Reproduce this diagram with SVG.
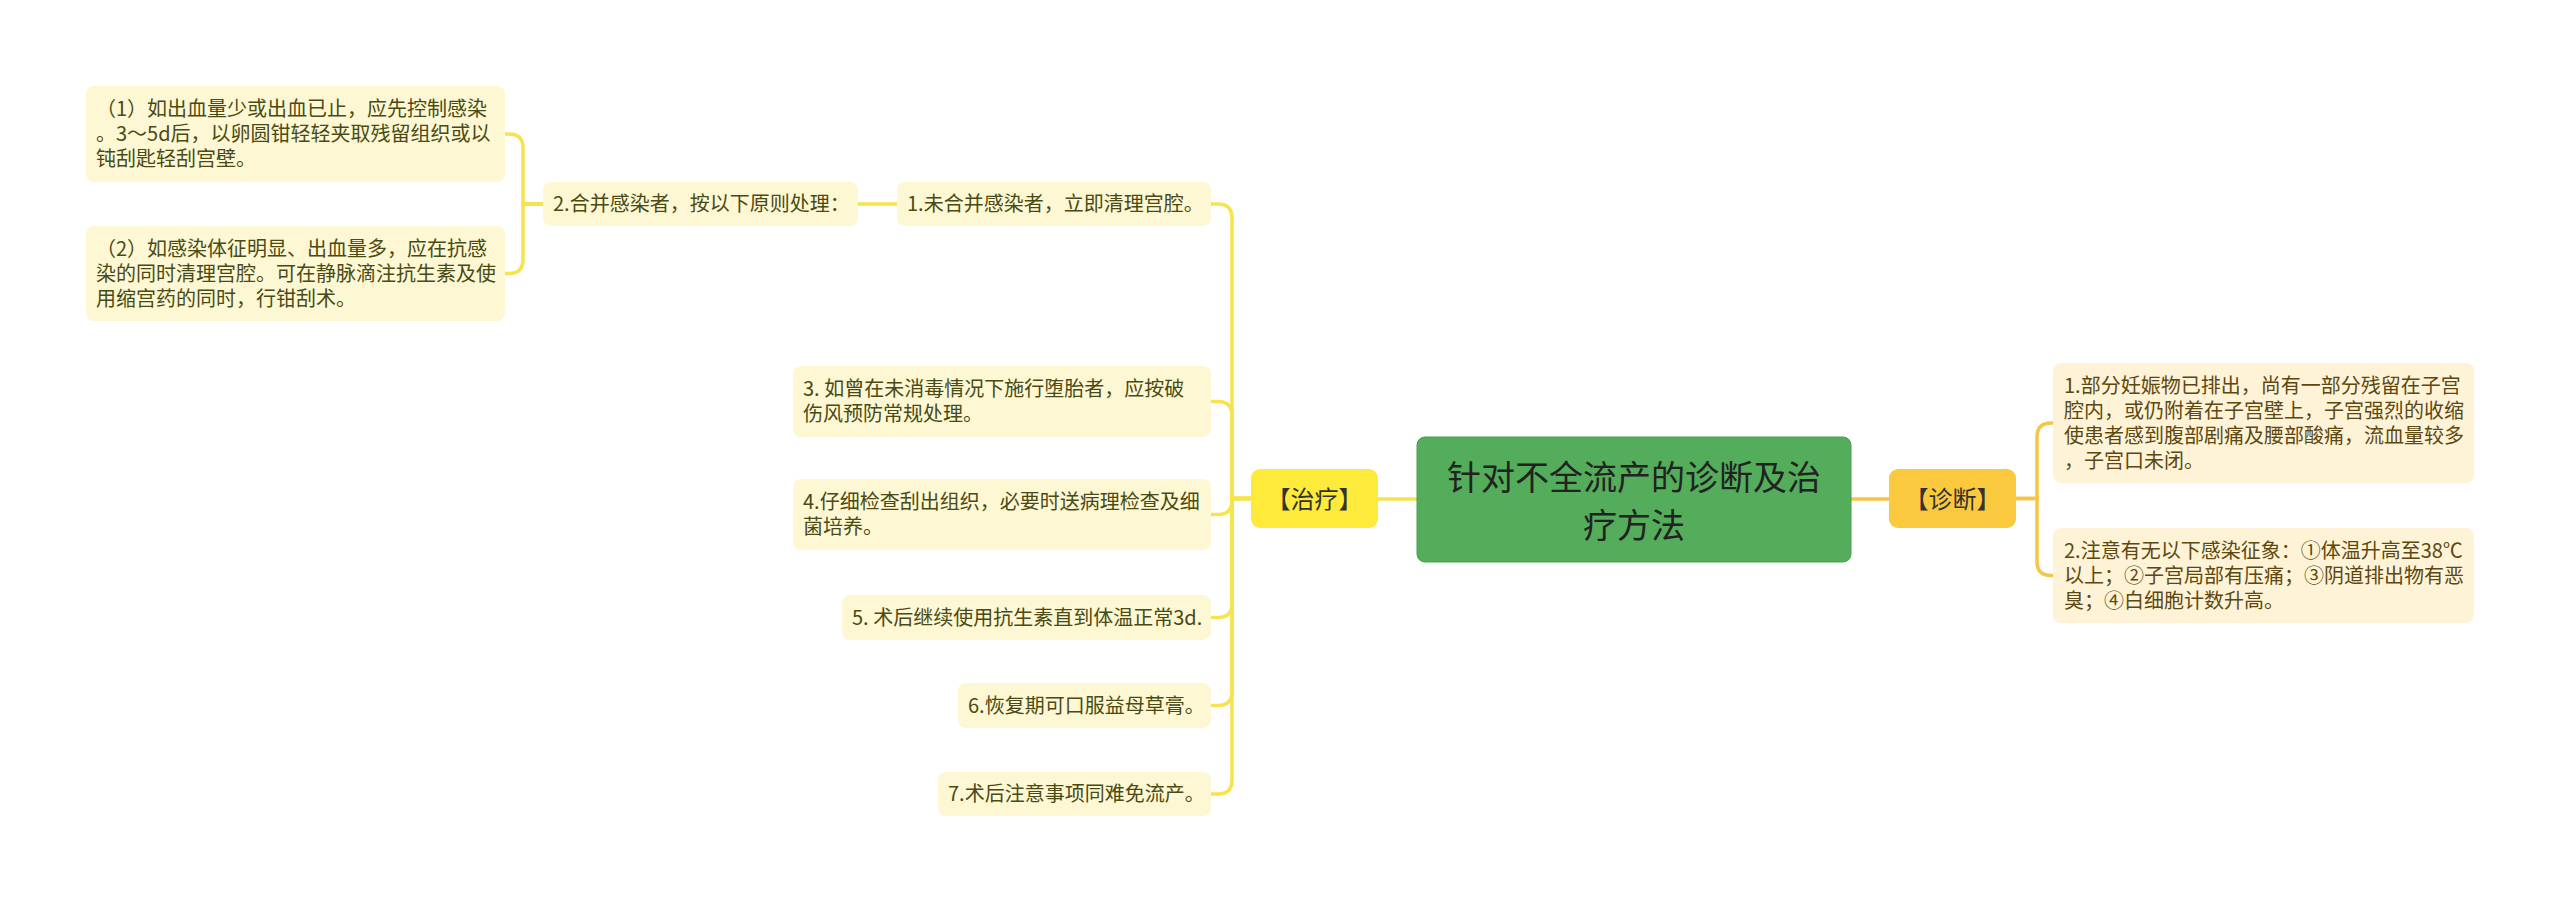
<svg xmlns="http://www.w3.org/2000/svg" width="2560" height="903" viewBox="0 0 2560 903">
<style>
.t{font-family:"Noto Sans CJK SC","Noto Sans",sans-serif;font-size:20px}
.tt{fill:#4a4a14}
.td{fill:#5c4810}
.by{fill:#fdf8d3}
.bd{fill:#fef3d6}
.cy{fill:none;stroke:#f7e34b;stroke-width:3.5;stroke-linecap:round}
.co{fill:none;stroke:#f6c546;stroke-width:3.5;stroke-linecap:round}
</style>
<rect width="2560" height="903" fill="#ffffff"/>
<g id="connectors">
<path class="cy" d="M1417,499 H1378"/>
<path class="co" d="M1851,499 H1889"/>
<path class="cy" d="M1251,498.5 H1232 V218 Q1232,204 1218,204 H1211"/>
<path class="cy" d="M1251,498.5 H1232 V415.5 Q1232,401.5 1218,401.5 H1211"/>
<path class="cy" d="M1251,498.5 H1232 V500.5 Q1232,514.5 1218,514.5 H1211"/>
<path class="cy" d="M1251,498.5 H1232 V603.5 Q1232,617.5 1218,617.5 H1211"/>
<path class="cy" d="M1251,498.5 H1232 V691.5 Q1232,705.5 1218,705.5 H1211"/>
<path class="cy" d="M1251,498.5 H1232 V780 Q1232,794 1218,794 H1211"/>
<path class="cy" d="M897,204 H858"/>
<path class="cy" d="M543,204 H523 V148 Q523,134 509,134 H505"/>
<path class="cy" d="M543,204 H523 V259.5 Q523,273.5 509,273.5 H505"/>
<path class="co" d="M2016,498.5 H2037 V437 Q2037,423 2051,423 H2053"/>
<path class="co" d="M2016,498.5 H2037 V561.5 Q2037,575.5 2051,575.5 H2053"/>
</g>
<g id="root">
<rect x="1417" y="437" width="434" height="125" rx="8" fill="#53ad5a" stroke="#4a9f51" stroke-width="1"/>
<text x="1634" y="490" text-anchor="middle" font-family="Noto Sans CJK SC, Noto Sans, sans-serif" font-size="34" fill="#222222">针对不全流产的诊断及治</text>
<text x="1634" y="538" text-anchor="middle" font-family="Noto Sans CJK SC, Noto Sans, sans-serif" font-size="34" fill="#222222">疗方法</text>
</g>
<g id="zhiliao">
<rect x="1251" y="469" width="127" height="59" rx="9" fill="#fdea3b"/>
<text x="1314.5" y="507.5" text-anchor="middle" font-family="Noto Sans CJK SC, Noto Sans, sans-serif" font-size="24" fill="#333333">【治疗】</text>
</g>
<g id="zhenduan">
<rect x="1889" y="469" width="127" height="59" rx="9" fill="#fbc93e"/>
<text x="1952.5" y="507.5" text-anchor="middle" font-family="Noto Sans CJK SC, Noto Sans, sans-serif" font-size="24" fill="#333333">【诊断】</text>
</g>
<g id="t1">
<rect class="by" x="897" y="182" width="314" height="44" rx="8"/>
<text class="t tt" x="907" y="211">1.未合并感染者，立即清理宫腔。</text>
</g>
<g id="t2">
<rect class="by" x="543" y="182" width="315" height="44" rx="8"/>
<text class="t tt" x="553" y="211">2.合并感染者，按以下原则处理：</text>
</g>
<g id="t2a">
<rect class="by" x="86" y="86" width="419" height="96" rx="8"/>
<text class="t tt" x="96" y="116">（1）如出血量少或出血已止，应先控制感染</text>
<text class="t tt" x="96" y="141">。3～5d后，以卵圆钳轻轻夹取残留组织或以</text>
<text class="t tt" x="96" y="166">钝刮匙轻刮宫壁。</text>
</g>
<g id="t2b">
<rect class="by" x="86" y="226" width="419" height="95" rx="8"/>
<text class="t tt" x="96" y="256">（2）如感染体征明显、出血量多，应在抗感</text>
<text class="t tt" x="96" y="281">染的同时清理宫腔。可在静脉滴注抗生素及使</text>
<text class="t tt" x="96" y="306">用缩宫药的同时，行钳刮术。</text>
</g>
<g id="t3">
<rect class="by" x="793" y="366" width="418" height="71" rx="8"/>
<text class="t tt" x="803" y="396">3. 如曾在未消毒情况下施行堕胎者，应按破</text>
<text class="t tt" x="803" y="421">伤风预防常规处理。</text>
</g>
<g id="t4">
<rect class="by" x="793" y="479" width="418" height="71" rx="8"/>
<text class="t tt" x="803" y="509">4.仔细检查刮出组织，必要时送病理检查及细</text>
<text class="t tt" x="803" y="534">菌培养。</text>
</g>
<g id="t5">
<rect class="by" x="842" y="595" width="369" height="45" rx="8"/>
<text class="t tt" x="852" y="624.5">5. 术后继续使用抗生素直到体温正常3d.</text>
</g>
<g id="t6">
<rect class="by" x="958" y="683" width="253" height="45" rx="8"/>
<text class="t tt" x="968" y="712.5">6.恢复期可口服益母草膏。</text>
</g>
<g id="t7">
<rect class="by" x="938" y="772" width="273" height="44" rx="8"/>
<text class="t tt" x="948" y="801">7.术后注意事项同难免流产。</text>
</g>
<g id="d1">
<rect class="bd" x="2053" y="363" width="421" height="120" rx="8"/>
<text class="t td" x="2064" y="393">1.部分妊娠物已排出，尚有一部分残留在子宫</text>
<text class="t td" x="2064" y="418">腔内，或仍附着在子宫壁上，子宫强烈的收缩</text>
<text class="t td" x="2064" y="443">使患者感到腹部剧痛及腰部酸痛，流血量较多</text>
<text class="t td" x="2064" y="468">，子宫口未闭。</text>
</g>
<g id="d2">
<rect class="bd" x="2053" y="528" width="421" height="95" rx="8"/>
<text class="t td" x="2064" y="558">2.注意有无以下感染征象：①体温升高至38℃</text>
<text class="t td" x="2064" y="583">以上；②子宫局部有压痛；③阴道排出物有恶</text>
<text class="t td" x="2064" y="608">臭；④白细胞计数升高。</text>
</g>
</svg>
